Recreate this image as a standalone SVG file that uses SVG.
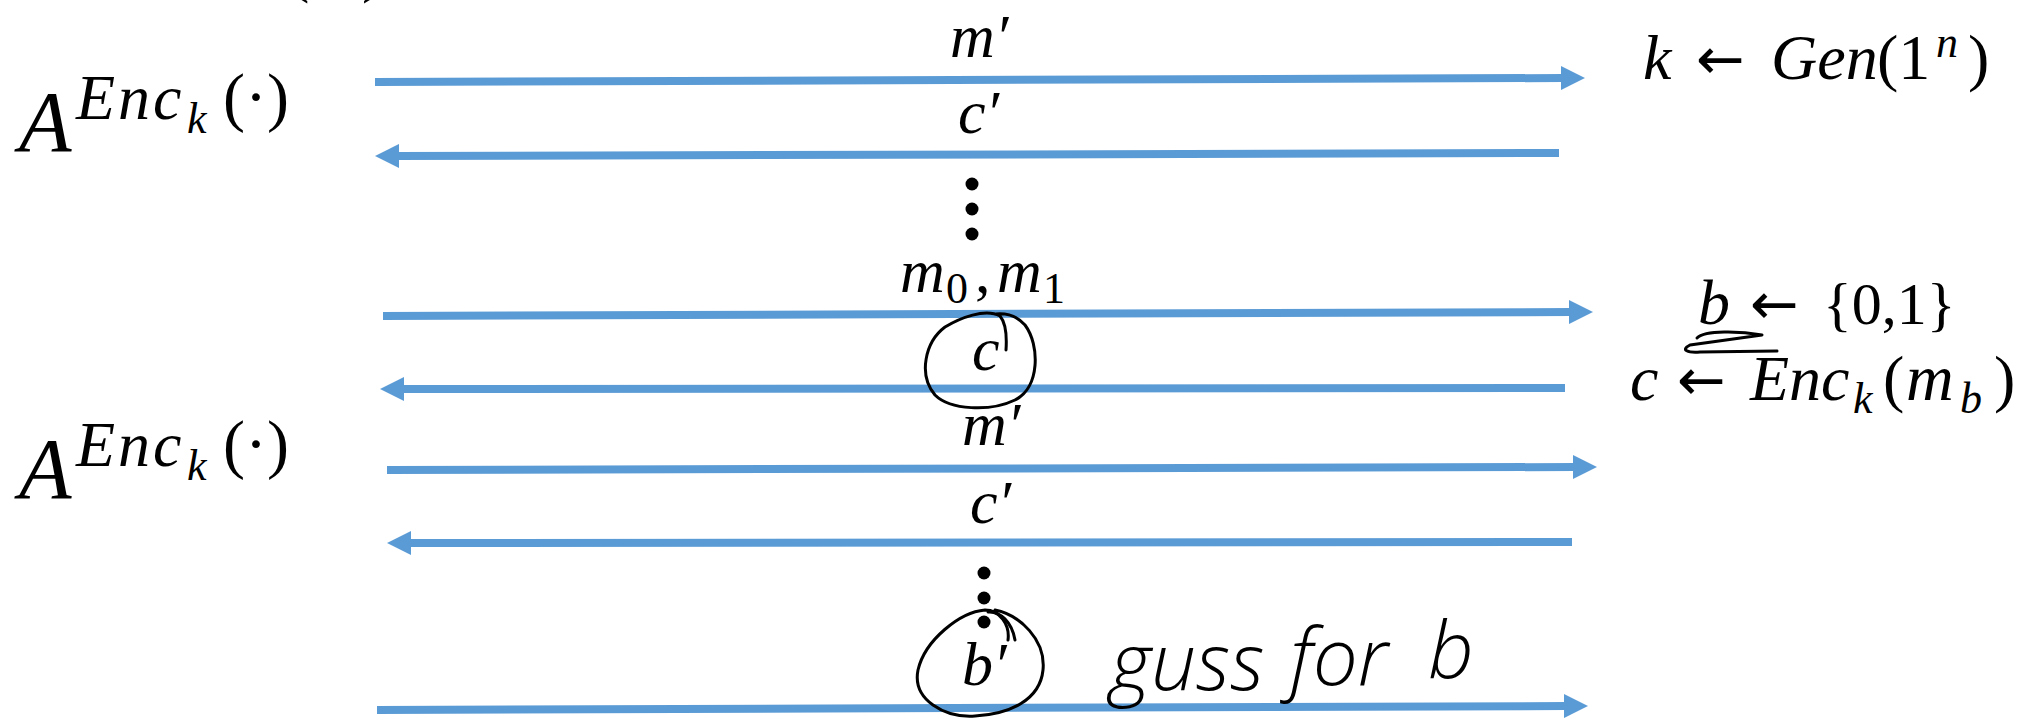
<svg xmlns="http://www.w3.org/2000/svg" width="2034" height="728" viewBox="0 0 2034 728">
<style>
.ln{stroke:#5B9BD5;stroke-width:8;fill:none}
.mi{font-style:italic;fill:#000}
.up{font-style:normal;fill:#000}
.ar{font-family:'DejaVu Sans',sans-serif;font-style:normal;fill:#000}
.hand{fill:none;stroke:#000;stroke-width:3;stroke-linecap:round;stroke-linejoin:round}
.hw{font-family:'Open Sans',sans-serif;font-weight:300;font-style:italic;fill:#000}
.dot{fill:#000}
</style>
<defs>
<marker id="ah" markerUnits="userSpaceOnUse" markerWidth="24" markerHeight="24" refX="2" refY="12" orient="auto"><path d="M0,0 L24,12 L0,24 z" fill="#5B9BD5"/></marker>
</defs>
<rect width="2034" height="728" fill="#fff"/>

<g id="top-cut" font-family="Liberation Serif, serif">
<text class="up" font-size="64"><tspan x="288" y="-10">(</tspan><tspan x="362" y="-10">)</tspan></text>
</g>

<g id="connectors">
<path class="ln" d="M375,82 L1563,78" marker-end="url(#ah)"/>
<path class="ln" d="M1559,153 L397,156" marker-end="url(#ah)"/>
<path class="ln" d="M383,316 L1571,312" marker-end="url(#ah)"/>
<path class="ln" d="M1565,388 L402,389" marker-end="url(#ah)"/>
<path class="ln" d="M387,470 L1575,467" marker-end="url(#ah)"/>
<path class="ln" d="M1572,542 L409,543" marker-end="url(#ah)"/>
<path class="ln" d="M377,710 L1566,706" marker-end="url(#ah)"/>
</g>

<g id="adv1" font-family="Liberation Serif, serif">
<text class="mi" x="19" y="151" font-size="86">A</text>
<text class="mi" x="76" y="119" font-size="64" letter-spacing="3">Enc</text>
<text class="mi" x="187" y="133" font-size="44">k</text>
<text class="up" x="223" y="119" font-size="66">(·)</text>
</g>
<g id="adv2" font-family="Liberation Serif, serif">
<text class="mi" x="19" y="498" font-size="86">A</text>
<text class="mi" x="76" y="466" font-size="64" letter-spacing="3">Enc</text>
<text class="mi" x="187" y="480" font-size="44">k</text>
<text class="up" x="223" y="466" font-size="66">(·)</text>
</g>

<g id="gen" font-family="Liberation Serif, serif">
<text class="mi" x="1643" y="79" font-size="64">k</text>
<text class="ar" x="1696" y="79" font-size="58">←</text>
<text class="mi" x="1771" y="79" font-size="64">Gen</text>
<text class="up" x="1877" y="79" font-size="64">(1</text>
<text class="mi" x="1936" y="57" font-size="44">n</text>
<text class="up" x="1968" y="79" font-size="64">)</text>
</g>

<g id="chooseb" font-family="Liberation Serif, serif">
<text class="mi" x="1698" y="324" font-size="64">b</text>
<text class="ar" x="1750" y="324" font-size="58">←</text>
<text class="up" x="1823" y="324" font-size="60">{0,1}</text>
<path class="hand" d="M1697,338 C1705,330 1740,331 1762,335 L1690,345 C1680,350 1688,353 1700,352 L1777,351"/>
</g>

<g id="encb" font-family="Liberation Serif, serif">
<text class="mi" x="1630" y="400" font-size="64">c</text>
<text class="ar" x="1677" y="400" font-size="58">←</text>
<text class="mi" x="1750" y="400" font-size="64">Enc</text>
<text class="mi" x="1853" y="413" font-size="44">k</text>
<text class="up" x="1883" y="400" font-size="64">(</text>
<text class="mi" x="1906" y="400" font-size="66">m</text>
<text class="mi" x="1960" y="413" font-size="44">b</text>
<text class="up" x="1994" y="400" font-size="64">)</text>
</g>

<g id="lbl-m1" font-family="Liberation Serif, serif"><text class="mi" x="950" y="57" font-size="62">m′</text></g>
<g id="lbl-c1" font-family="Liberation Serif, serif"><text class="mi" x="958" y="133" font-size="62">c′</text></g>
<g id="dots1">
<circle class="dot" cx="972" cy="184" r="6.5"/><circle class="dot" cx="972" cy="209" r="6.5"/><circle class="dot" cx="972" cy="234" r="6.5"/>
</g>
<g id="lbl-m0m1" font-family="Liberation Serif, serif">
<text class="mi" x="900" y="292" font-size="62">m</text>
<text class="up" x="946" y="303" font-size="44">0</text>
<text class="up" x="975" y="292" font-size="62">,</text>
<text class="mi" x="997" y="292" font-size="62">m</text>
<text class="up" x="1043" y="303" font-size="44">1</text>
</g>
<g id="lbl-c" font-family="Liberation Serif, serif">
<text class="mi" x="972" y="370" font-size="62">c</text>
<path class="hand" d="M1006,350 C1007,335 1005,322 1000,316 C985,308 960,318 945,327 C925,342 918,375 935,395 C950,410 990,412 1015,400 C1040,388 1040,345 1025,325 C1018,317 1008,313 996,314"/>
</g>
<g id="lbl-m2" font-family="Liberation Serif, serif"><text class="mi" x="962" y="445" font-size="62">m′</text></g>
<g id="lbl-c2" font-family="Liberation Serif, serif"><text class="mi" x="970" y="523" font-size="62">c′</text></g>
<g id="dots2">
<circle class="dot" cx="984" cy="573" r="6.5"/><circle class="dot" cx="984" cy="598" r="6.5"/><circle class="dot" cx="984" cy="622" r="6.5"/>
</g>
<g id="lbl-b" font-family="Liberation Serif, serif">
<text class="mi" x="962" y="685" font-size="62">b′</text>
<path class="hand" d="M1008,640 C1010,625 1000,610 985,610 C960,612 925,640 918,670 C912,700 945,718 975,716 C1010,714 1040,700 1043,670 C1046,640 1020,615 995,610"/>
<path class="hand" d="M988,612 C1000,611 1012,622 1015,640"/>
</g>
<g id="note">
<text class="hw" x="1110" y="690" font-size="80">guss</text>
<text class="hw" x="1290" y="685" font-size="80">for</text>
<text class="hw" x="1428" y="678" font-size="80">b</text>
</g>
</svg>
